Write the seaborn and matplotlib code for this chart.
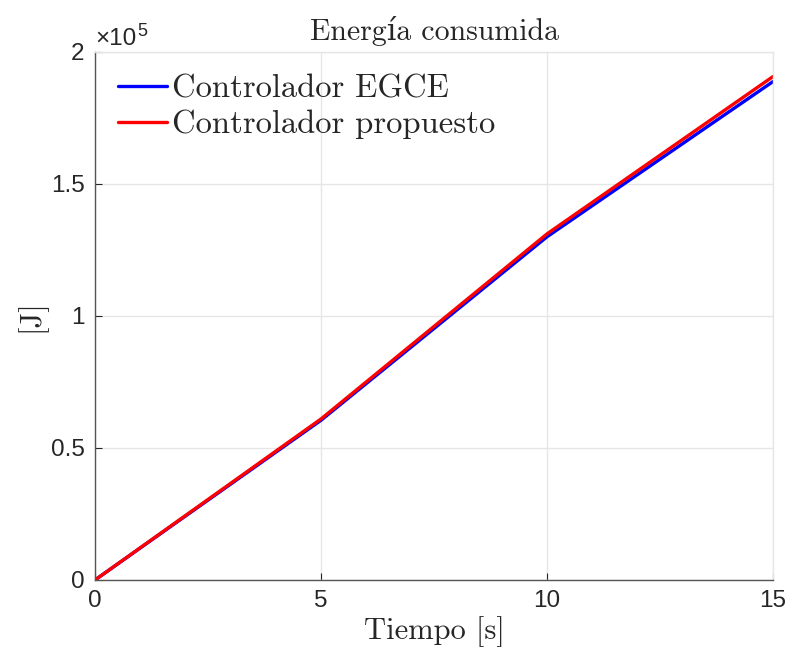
import matplotlib
matplotlib.use("Agg")
import matplotlib.pyplot as plt
import seaborn as sns
import pandas as pd

# Energy consumed over time by each controller
tiempo = [0, 5, 10, 15]
energia_egce = [0.0, 0.605e5, 1.300e5, 1.888e5]
energia_propuesto = [0.0, 0.610e5, 1.311e5, 1.907e5]
series = ["Controlador EGCE", "Controlador propuesto"]
colores = ["#0000ff", "#ff0000"]

x_ticks = [0, 5, 10, 15]
y_ticks = [0, 0.5e5, 1.0e5, 1.5e5, 2.0e5]
y_tick_labels = ["0", "0.5", "1", "1.5", "2"]

df = pd.DataFrame({
    "t": tiempo * 2,
    "E": energia_egce + energia_propuesto,
    "serie": [series[0]] * len(tiempo) + [series[1]] * len(tiempo),
})

sns.set_theme(style="whitegrid")
plt.rcParams["font.family"] = ["Liberation Sans", "DejaVu Sans"]
plt.rcParams["mathtext.fontset"] = "cm"

serif = ["cmr10", "DejaVu Serif"]
txt = "#262626"

fig = plt.figure(figsize=(7.88, 6.56), dpi=100)
ax = fig.add_axes([95 / 788, 76 / 656, 678 / 788, 528 / 656])

sns.lineplot(data=df, x="t", y="E", hue="serie", palette=colores,
             linewidth=2.4, ax=ax, legend=True)

ax.set_xlim(0, 15)
ax.set_ylim(0, 2.0e5)
ax.set_xticks(x_ticks)
ax.set_yticks(y_ticks)
ax.set_yticklabels(y_tick_labels)
ax.tick_params(axis="both", labelsize=17.5, colors=txt, direction="in",
               length=5, width=0.8, left=True, bottom=True)
ax.tick_params(axis="y", pad=7.5)
ax.tick_params(axis="x", pad=7)

ax.grid(True, color="#e6e6e6", linewidth=1.0)
for side in ["left", "bottom"]:
    ax.spines[side].set_color("#555555")
    ax.spines[side].set_linewidth(1.0)
for side in ["top", "right"]:
    ax.spines[side].set_color("#e6e6e6")
    ax.spines[side].set_linewidth(1.0)

ax.set_title("Energía consumida", family=serif,
             fontsize=21.5, color=txt, pad=9)
ax.set_xlabel("Tiempo [s]", family=serif, fontsize=22, color=txt, labelpad=3)
ax.set_ylabel("[J]", family=serif, fontsize=22, color=txt, labelpad=3)

# Exponent marker for the y axis
ax.text(0.0, 1.004, "\u00d710", transform=ax.transAxes, fontsize=17.5,
        color=txt, ha="left", va="bottom")
ax.text(0.063, 1.022, "5", transform=ax.transAxes, fontsize=13,
        color=txt, ha="left", va="bottom")

leg = ax.legend(loc="upper left", frameon=False, handlelength=1.5,
                handletextpad=0.15, borderaxespad=0.3, borderpad=0.4,
                labelspacing=0.17, prop={"family": serif, "size": 23.5})
for h in leg.get_lines():
    h.set_linewidth(2.4)

fig.savefig("out.png", dpi=100, facecolor="white")
